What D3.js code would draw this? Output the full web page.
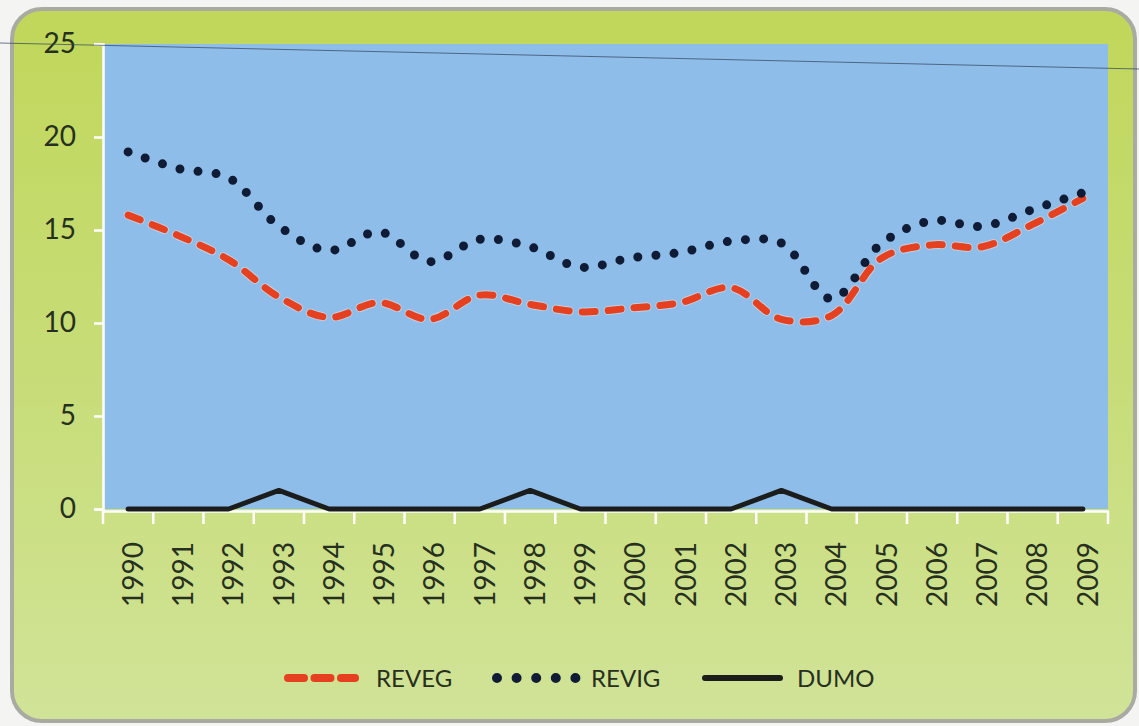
<!DOCTYPE html>
<html>
<head>
<meta charset="utf-8">
<script src="https://cdn.jsdelivr.net/npm/d3@7"></script>
<style>
  html, body { margin: 0; padding: 0; background: #f4f4f2; }
  svg { display: block; }
  text { font-family: Lato, "Open Sans", sans-serif; fill: #27301f; }
</style>
</head>
<body>
<div id="chart"></div>
<script>
(function(){

  var years = ['1990','1991','1992','1993','1994','1995','1996','1997','1998','1999',
               '2000','2001','2002','2003','2004','2005','2006','2007','2008','2009'];
  var reveg = [15.8, 14.7, 13.4, 11.4, 10.3, 11.1, 10.2, 11.5, 11.0, 10.6,
               10.8, 11.1, 11.9, 10.2, 10.4, 13.5, 14.2, 14.1, 15.3, 16.7];
  var revig = [19.2, 18.3, 17.8, 15.2, 13.9, 14.9, 13.3, 14.5, 14.1, 13.0,
               13.5, 13.8, 14.4, 14.3, 11.3, 14.3, 15.5, 15.2, 16.1, 17.0];
  var dumo  = [0, 0, 0, 1, 0, 0, 0, 0, 1, 0,
               0, 0, 0, 1, 0, 0, 0, 0, 0, 0];
  var yTicks = [0, 5, 10, 15, 20, 25];
  var seriesNames = ['REVEG', 'REVIG', 'DUMO'];

  var W = 1139, H = 726;
  var left = 103, right = 1108, top = 44, bottom = 509;

  var svg = d3.select('#chart').append('svg')
        .attr('width', W).attr('height', H);

  var defs = svg.append('defs');
  var grad = defs.append('linearGradient')
        .attr('id', 'bg').attr('x1', 0).attr('y1', 0).attr('x2', 0).attr('y2', 1);
  grad.append('stop').attr('offset', '0%').attr('stop-color', '#c0d75a');
  grad.append('stop').attr('offset', '55%').attr('stop-color', '#c8dd7a');
  grad.append('stop').attr('offset', '100%').attr('stop-color', '#d1e398');

  // panel
  svg.append('rect')
    .attr('x', 12).attr('y', 9).attr('width', 1123).attr('height', 712)
    .attr('rx', 30).attr('ry', 30)
    .attr('fill', 'url(#bg)')
    .attr('stroke', '#a9aba3').attr('stroke-width', 4);

  var x = d3.scaleBand().domain(years).range([left, right]);
  var y = d3.scaleLinear().domain([0, 25]).range([bottom, top]);
  var cx = function(i){ return x(years[i]) + x.bandwidth() / 2; };

  // plot area
  svg.append('rect')
    .attr('x', left).attr('y', y(25))
    .attr('width', right - left).attr('height', y(0) - y(25))
    .attr('fill', '#8ebde9');

  // y axis
  var yAxis = svg.append('g')
    .attr('transform', 'translate(' + left + ',0)')
    .call(d3.axisLeft(y).tickValues(yTicks).tickSize(9).tickPadding(18));
  yAxis.select('.domain').attr('stroke', '#fff').attr('stroke-width', 2.5);
  yAxis.selectAll('.tick line').attr('stroke', '#fff').attr('stroke-width', 2.5);
  yAxis.selectAll('text')
    .style('font-size', '28px').attr('fill', '#27301f')
    .attr('font-family', 'Lato, "Open Sans", sans-serif');

  // x axis: labels at band centres, ticks at band boundaries
  var xAxis = svg.append('g')
    .attr('transform', 'translate(0,' + (bottom + 2) + ')')
    .call(d3.axisBottom(x).tickSize(0).tickSizeOuter(0));
  xAxis.select('.domain').attr('stroke', '#fff').attr('stroke-width', 2.5);
  xAxis.selectAll('text')
    .style('font-size', '28px').attr('fill', '#27301f')
    .attr('font-family', 'Lato, "Open Sans", sans-serif')
    .attr('text-anchor', 'end')
    .attr('transform', 'rotate(-90)')
    .attr('x', -31).attr('y', 5).attr('dy', '0.35em');

  var bounds = years.map(function(d){ return x(d); }).concat([right]);
  xAxis.selectAll('line.bnd')
    .data(bounds)
    .enter().append('line')
      .attr('class', 'bnd')
      .attr('x1', function(d){ return d; }).attr('x2', function(d){ return d; })
      .attr('y1', 0).attr('y2', 13)
      .attr('stroke', '#fff').attr('stroke-width', 2.5);

  // lines
  var smooth = d3.line()
        .x(function(d, i){ return cx(i); })
        .y(function(d){ return y(d); })
        .curve(d3.curveCatmullRom.alpha(0.5));
  var straight = d3.line()
        .x(function(d, i){ return cx(i); })
        .y(function(d){ return y(d); });

  svg.append('path')
    .datum(dumo)
    .attr('d', straight)
    .attr('fill', 'none').attr('stroke', '#1b1d1c')
    .attr('stroke-width', 5).attr('stroke-linejoin', 'round').attr('stroke-linecap', 'round');

  svg.append('path')
    .datum(reveg)
    .attr('d', smooth)
    .attr('fill', 'none').attr('stroke', '#fbe1d8')
    .attr('stroke-width', 9).attr('stroke-linecap', 'round')
    .attr('stroke-dasharray', '13 13').attr('opacity', 0.5);
  svg.append('path')
    .datum(reveg)
    .attr('d', smooth)
    .attr('fill', 'none').attr('stroke', '#e5401f')
    .attr('stroke-width', 7).attr('stroke-linecap', 'round')
    .attr('stroke-dasharray', '13 13');

  svg.append('path')
    .datum(revig)
    .attr('d', smooth)
    .attr('fill', 'none').attr('stroke', '#101c36')
    .attr('stroke-width', 9).attr('stroke-linecap', 'round')
    .attr('stroke-dasharray', '0 18.2');

  // legend
  var legend = svg.append('g').attr('transform', 'translate(0,678)');
  var items = [
    { x0: 288, x1: 355, tx: 376, stroke: '#e5401f', w: 8, dash: '16 10.5' },
    { x0: 497, x1: 576, tx: 591, stroke: '#101c36', w: 10, dash: '0 19.6' },
    { x0: 705, x1: 780, tx: 797, stroke: '#1b1d1c', w: 6, dash: null }
  ];
  items.forEach(function(it, i){
    legend.append('line')
      .attr('x1', it.x0).attr('x2', it.x1).attr('y1', 0).attr('y2', 0)
      .attr('stroke', it.stroke).attr('stroke-width', it.w)
      .attr('stroke-linecap', 'round')
      .attr('stroke-dasharray', it.dash);
    legend.append('text')
      .attr('x', it.tx).attr('y', 0).attr('dy', '0.36em')
      .style('font-size', '24px')
      .text(seriesNames[i]);
  });

  // faint scan line across the top of the page
  svg.append('line')
    .attr('x1', 0).attr('y1', 43).attr('x2', W).attr('y2', 69)
    .attr('stroke', '#33425c').attr('stroke-width', 1).attr('opacity', 0.7);

})();
</script>
</body>
</html>
